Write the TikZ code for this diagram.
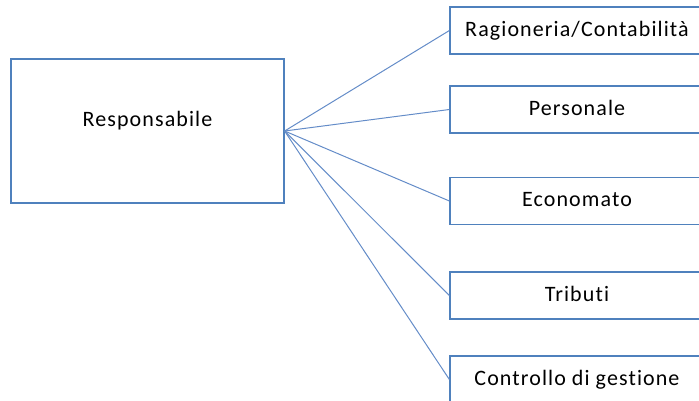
\documentclass[tikz,border=0pt]{standalone}
\usepackage{fontspec}
\setmainfont[LetterSpace=5, Ligatures=CommonOff]{Carlito}
\usepackage{tikz}
\definecolor{boxblue}{RGB}{79,129,189}
\definecolor{lineblue}{RGB}{100,140,200}
\tikzstyle{block} = [draw=boxblue, line width=1.2pt, rectangle, fill=white, text=black,
    font=\fontsize{22}{26}\selectfont, text height=15pt, text depth=4pt,
    minimum height=47pt, minimum width=254pt, inner sep=0pt]
\tikzstyle{link} = [draw=lineblue, line width=1pt]

\begin{document}
\begin{tikzpicture}[x=1pt, y=-1pt]
\useasboundingbox (0,0) rectangle (699,400);
\clip (0,0) rectangle (699,400);
%% Responsabile %%
\node [block, minimum width=273pt, minimum height=144pt, text height=16pt, text depth=26pt] (Responsabile) at (147.5,131) {Responsabile};

%% Uffici %%
\node [block] (Ragioneria) at (577,30.5) {Ragioneria/Contabilità};
\node [block] (Personale) at (577,109.5) {Personale};
\node [block] (Economato) at (577,201) {Economato};
\node [block] (Tributi) at (577,295.5) {Tributi};
\node [block] (Controllo) at (577,379.5) {Controllo di gestione};

%% Collegamenti %%
\draw[link] (Responsabile.east) -- (Ragioneria.west);
\draw[link] (Responsabile.east) -- (Personale.west);
\draw[link] (Responsabile.east) -- (Economato.west);
\draw[link] (Responsabile.east) -- (Tributi.west);
\draw[link] (Responsabile.east) -- (Controllo.west);
\end{tikzpicture}
\end{document}
